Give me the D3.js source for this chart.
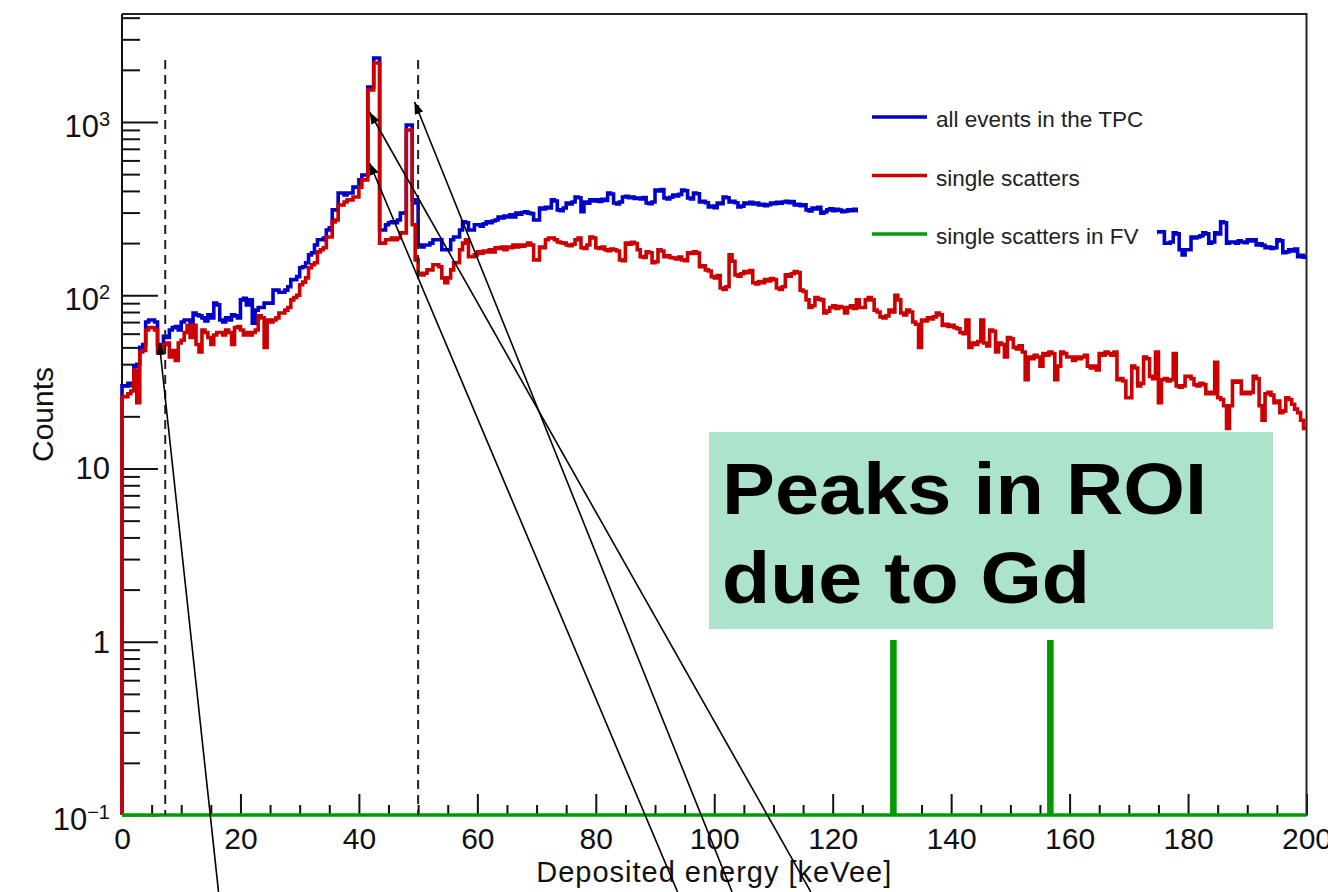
<!DOCTYPE html>
<html>
<head>
<meta charset="utf-8">
<script src="https://cdn.jsdelivr.net/npm/d3@7"></script>
<style>
  html, body { margin: 0; padding: 0; background: #fff; }
  svg { display: block; font-family: "Liberation Sans", Arial, Helvetica, sans-serif; }
</style>
</head>
<body>
<div id="chart"></div>
<script>
// histogram binning (keV)
const BIN_WIDTH = 0.5;
const E_MIN = 0, E_MAX = 200;
const Y_MIN = 0.1, Y_MAX = 4200;

// counts per 0.5 keV bin, all events in the TPC (blue)
const allEvents = [
  30,30,31,31,39,40,50,52,70,72,72,70,52,50,58,57,63,65,66,63,
  70,72,72,67,79,77,76,74,71,77,74,90,88,72,70,74,72,77,76,74,
  94,96,88,94,69,82,85,85,90,90,90,107,107,104,104,107,112,123,123,128,
  144,146,154,171,176,195,209,209,214,238,245,311,311,389,389,379,389,389,421,421,
  463,494,494,1590,1590,2340,2340,238,238,255,262,265,262,272,298,298,961,961,355,341,
  195,190,195,195,200,209,209,209,183,183,183,209,217,217,238,265,262,238,238,255,
  255,250,258,265,262,268,272,283,279,286,283,291,283,298,294,300,303,298,296,272,
  272,319,315,322,319,355,350,311,308,319,341,336,345,369,365,303,345,340,355,350,
  355,348,358,352,389,384,341,336,345,369,372,365,369,362,364,360,366,341,338,345,
  405,400,408,364,360,368,379,374,382,405,401,364,360,389,385,345,348,342,323,327,
  320,341,337,369,365,345,349,342,323,327,341,338,344,336,341,332,335,329,333,341,
  338,344,340,345,349,342,347,332,335,329,333,311,307,319,315,322,298,302,311,315,
  308,313,310,303,306,311,308,313,309,303,305,298,312,290,301,295,308,286,299,293,
  302,288,296,281,294,289,277,291,284,279,288,273,282,276,269,285,271,278,266,274,
  268,279,262,271,265,258,270,261,267,255,263,259,268,252,260,256,249,262,251,257,
  248,255,246,253,244,258,241,250,247,239,252,243,236,248,240,245,233,242,238,246,
  235,241,230,244,237,232,240,228,236,231,239,226,234,229,237,224,232,227,235,222,
  230,225,233,221,228,236,223,231,226,232,232,232,200,200,203,229,226,183,171,183,
  183,217,214,217,220,229,226,200,203,229,226,265,262,200,203,203,200,206,203,201,
  209,206,209,195,198,194,188,190,186,188,209,206,176,178,183,180,185,167,170,166
];

// counts per 0.5 keV bin, single scatters (red)
const singleScatters = [
  26,26,27,28,37,24,47,48,63,65,65,63,47,48,52,53,44,48,42,53,
  55,61,67,57,67,52,47,63,61,57,52,59,61,61,59,63,61,52,65,66,
  63,59,61,59,61,63,76,74,50,72,70,72,74,79,79,82,85,94,97,100,
  115,119,126,144,150,154,178,183,188,217,217,265,272,332,332,345,355,355,369,369,
  421,463,463,1530,1530,2190,2190,200,200,209,209,214,209,214,229,229,899,899,255,160,
  134,131,134,140,140,150,150,146,126,118,126,140,154,154,183,200,209,167,167,171,
  178,175,180,178,183,178,188,186,190,183,190,188,195,190,195,192,195,200,195,160,
  160,190,188,209,214,214,209,203,201,200,195,193,197,209,214,188,186,195,217,214,
  188,186,190,183,181,185,183,180,160,158,200,197,202,199,183,167,165,178,176,154,
  156,183,180,167,169,165,164,162,166,160,158,176,174,178,175,146,148,140,138,128,
  126,130,110,108,112,171,157,131,129,133,137,135,139,118,116,120,118,123,121,125,
  123,110,108,112,131,129,133,137,135,107,105,94,85,87,97,95,94,79,81,85,
  87,84,86,85,79,85,87,84,94,85,85,94,97,94,82,80,75,74,76,82,
  80,100,94,79,77,82,80,70,68,50,72,71,74,73,75,79,77,67,68,66,
  67,65,64,61,60,72,50,53,52,54,72,53,51,63,62,47,53,52,44,57,
  56,50,49,51,47,32.5,44,43,45,44,39,46,45,47,46,32.5,39,47,46,44,
  44,42,44,43,44,45,39,38,39,37,46,45,47,46,45,47,32.5,33,32,25.6,
  25.6,39,38,30,31,44,43,34,33,47,24,32.5,33,32,32.5,46,30,29.5,30,34,
  34,33,30.5,30,31,30.5,27,27.5,27,41,25.6,25,23,17,23,32,31.5,32,27,27.5,
  27,27.5,34,33,23,19,27,27.5,26.5,24,24.5,21,21.5,25.6,25,23.5,22,21,19,17
];

// single scatters in FV (green): only two non-empty bins [bin low edge keV, count]
const fvNonEmpty = [[130.0, 1], [156.5, 1]];

// ROI limits (dashed lines), keV
const roiEdges = [7.3, 50];
const roiTop = 2280;

// axis ticks
const xMajorTicks = d3.range(0, 201, 20);
const xMinorTicks = d3.range(0, 201, 5).filter(v => v % 20 !== 0);
const yDecadeLabels = [
  {v: 0.1, base: '10', exp: '\u22121'},
  {v: 1, base: '1'},
  {v: 10, base: '10'},
  {v: 100, base: '10', exp: '2'},
  {v: 1000, base: '10', exp: '3'}
];
const yMinorTicks = [];
for (let d = -1; d <= 3; d++) for (let m = 2; m <= 9; m++) {
  const v = m * Math.pow(10, d);
  if (v <= Y_MAX) yMinorTicks.push(v);
}

const legendEntries = [
  {label: 'all events in the TPC', color: '#0000cc'},
  {label: 'single scatters', color: '#cc0000'},
  {label: 'single scatters in FV', color: '#009a00'}
];

// arrows: [from E, from count] -> [to E, to count]
const arrows = [
  {from: [16.3, 0.036], to: [6.3, 53]},
  {from: [93.8, 0.036], to: [41.8, 580]},
  {from: [103.0, 0.036], to: [49.4, 1304]},
  {from: [116.3, 0.036], to: [41.8, 1142]}
];

const W = 1328, H = 892;
const svg = d3.select('#chart').append('svg').attr('width', W).attr('height', H);
svg.append('rect').attr('width', W).attr('height', H).attr('fill', '#fff');

const x = d3.scaleLinear().domain([E_MIN, E_MAX]).range([122, 1306.5]);
const y = d3.scaleLog().domain([Y_MIN, Y_MAX]).range([815, 14]);
const x0 = x.range()[0], x1 = x.range()[1], yb = y.range()[0], yt = y.range()[1];
const ink = '#111';

// axes
function styleAxis(g) {
  g.select('.domain').remove();
  g.selectAll('.tick line').attr('stroke', ink).attr('stroke-width', 2);
}
svg.append('g').attr('transform', `translate(0,${yb})`)
  .call(d3.axisBottom(x).tickValues(xMinorTicks).tickSize(-10).tickFormat(''))
  .call(styleAxis);
const xg = svg.append('g').attr('transform', `translate(0,${yb})`)
  .call(d3.axisBottom(x).tickValues(xMajorTicks).tickSize(-21).tickFormat(d3.format('d')))
  .call(styleAxis);
xg.selectAll('.tick text')
  .attr('y', 34).attr('dy', null)
  .attr('font-size', 30).attr('fill', ink)
  .attr('font-family', '"Liberation Sans", Arial, sans-serif');

svg.append('g').attr('transform', `translate(${x0},0)`)
  .call(d3.axisLeft(y).tickValues(yMinorTicks).tickSize(-18).tickFormat(''))
  .call(styleAxis);
const yg = svg.append('g').attr('transform', `translate(${x0},0)`)
  .call(d3.axisLeft(y).tickValues(yDecadeLabels.map(d => d.v)).tickSize(-36).tickFormat(''))
  .call(styleAxis);
yg.selectAll('.tick text').remove();
yDecadeLabels.forEach(d => {
  const t = svg.append('text')
    .attr('x', x0 - 12)
    .attr('y', y(d.v) + (d.exp ? 15 : 11))
    .attr('text-anchor', 'end')
    .attr('fill', ink)
    .attr('font-size', 31);
  t.append('tspan').text(d.base);
  if (d.exp) t.append('tspan').attr('font-size', 20).attr('dy', -11).text(d.exp);
});

// left axis line and frame
svg.append('line').attr('x1', x0).attr('x2', x0).attr('y1', yt).attr('y2', yb)
  .attr('stroke', ink).attr('stroke-width', 2);
svg.append('path')
  .attr('d', `M${x0},${yt}H${x1}V${yb}H${x0}`)
  .attr('fill', 'none').attr('stroke', '#222').attr('stroke-width', 2);

// axis titles
svg.append('text')
  .attr('x', (x0 + x1) / 2).attr('y', 882)
  .attr('text-anchor', 'middle').attr('font-size', 29).attr('letter-spacing', 1)
  .attr('fill', ink).text('Deposited energy [keVee]');
svg.append('text')
  .attr('transform', `translate(53,${(yt + yb) / 2}) rotate(-90)`)
  .attr('text-anchor', 'middle').attr('font-size', 30)
  .attr('fill', ink).text('Counts');

// histograms
function histPoints(counts) {
  const pts = [[E_MIN, Y_MIN]];
  counts.forEach((c, i) => pts.push([E_MIN + i * BIN_WIDTH, Math.max(c, Y_MIN)]));
  pts.push([E_MAX, Math.max(counts[counts.length - 1], Y_MIN)]);
  return pts;
}
const nBins = Math.round((E_MAX - E_MIN) / BIN_WIDTH);
const fvCounts = d3.range(nBins).map(i => {
  const hit = fvNonEmpty.find(p => Math.round((p[0] - E_MIN) / BIN_WIDTH) === i);
  return hit ? hit[1] : 0;
});
const stepLine = d3.line().x(d => x(d[0])).y(d => y(d[1])).curve(d3.curveStepAfter);
const series = [
  {counts: allEvents, color: legendEntries[0].color},
  {counts: singleScatters, color: legendEntries[1].color},
  {counts: fvCounts, color: legendEntries[2].color}
];
svg.selectAll('path.hist').data(series).join('path')
  .attr('class', 'hist')
  .attr('d', d => stepLine(histPoints(d.counts)))
  .attr('fill', 'none')
  .attr('stroke', d => d.color)
  .attr('stroke-width', 3.6)
  .attr('stroke-linejoin', 'miter');

// ROI dashed lines
svg.selectAll('line.roi').data(roiEdges).join('line')
  .attr('class', 'roi')
  .attr('x1', d => x(d)).attr('x2', d => x(d))
  .attr('y1', y(roiTop)).attr('y2', yb)
  .attr('stroke', '#222').attr('stroke-width', 2).attr('stroke-dasharray', '9,6');

// legend
const legend = svg.append('g');
legend.append('rect').attr('x', 858).attr('y', 88).attr('width', 299).attr('height', 174).attr('fill', '#fff');
legendEntries.forEach((e, i) => {
  const ly = 117 + i * 58.5;
  legend.append('line').attr('x1', 872).attr('x2', 927).attr('y1', ly).attr('y2', ly)
    .attr('stroke', e.color).attr('stroke-width', 3.5);
  legend.append('text').attr('x', 936).attr('y', ly + 10)
    .attr('font-size', 22.5).attr('fill', '#222').text(e.label);
});

// annotation box
svg.append('rect').attr('x', 709).attr('y', 432).attr('width', 564).attr('height', 197).attr('fill', '#abe3cb');
svg.append('text').attr('x', 722).attr('y', 514)
  .attr('font-size', 72).attr('font-weight', 'bold').attr('fill', '#000')
  .attr('textLength', 485).attr('lengthAdjust', 'spacingAndGlyphs')
  .text('Peaks in ROI');
svg.append('text').attr('x', 722).attr('y', 603)
  .attr('font-size', 72).attr('font-weight', 'bold').attr('fill', '#000')
  .attr('textLength', 368).attr('lengthAdjust', 'spacingAndGlyphs')
  .text('due to Gd');

// arrows
svg.append('defs').append('marker')
  .attr('id', 'ah').attr('viewBox', '0 0 12 9').attr('refX', 12).attr('refY', 4.5)
  .attr('markerWidth', 12).attr('markerHeight', 9).attr('markerUnits', 'userSpaceOnUse')
  .attr('orient', 'auto')
  .append('path').attr('d', 'M0,0L12,4.5L0,9Z').attr('fill', '#000');
svg.selectAll('line.arrow').data(arrows).join('line')
  .attr('class', 'arrow')
  .attr('x1', d => x(d.from[0])).attr('y1', d => y(d.from[1]))
  .attr('x2', d => x(d.to[0])).attr('y2', d => y(d.to[1]))
  .attr('stroke', '#000').attr('stroke-width', 1.6)
  .attr('marker-end', 'url(#ah)');
</script>
</body>
</html>
